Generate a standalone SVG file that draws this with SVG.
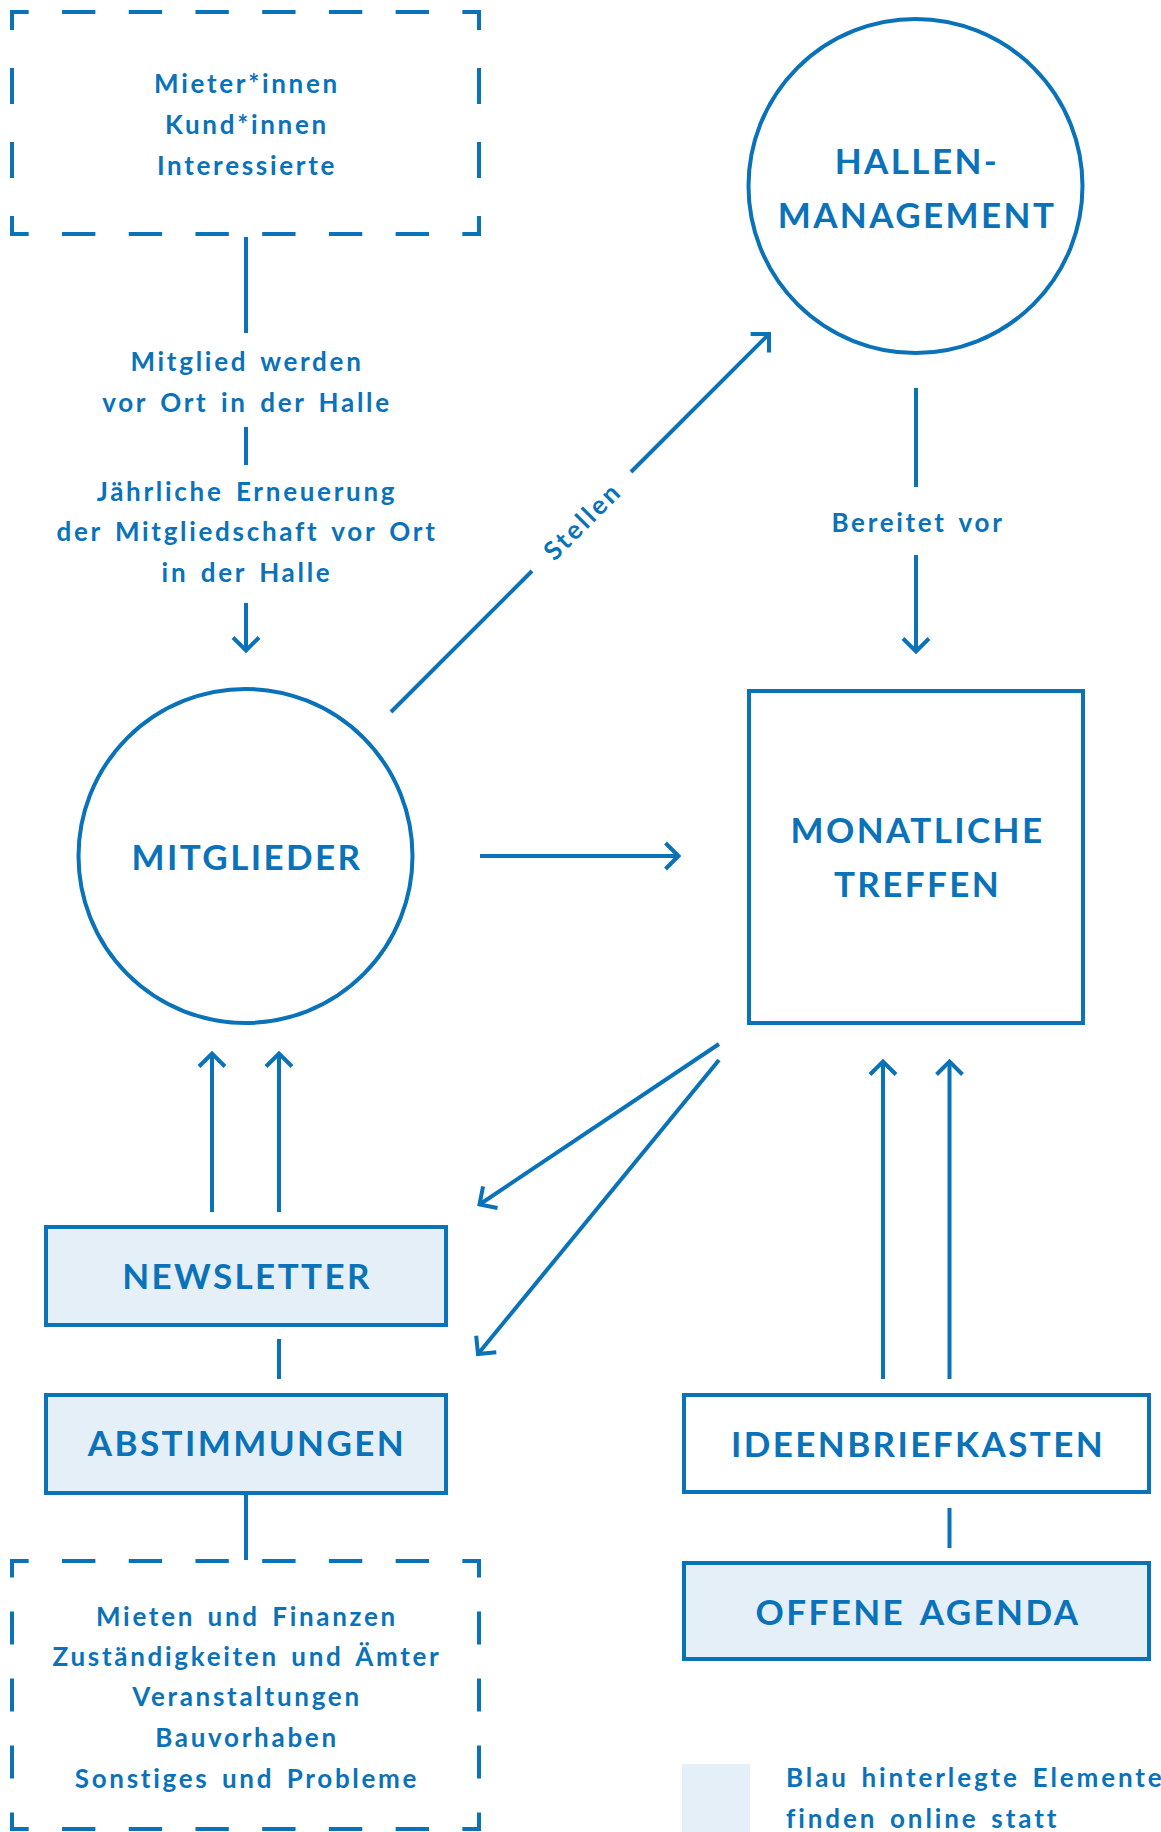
<svg xmlns="http://www.w3.org/2000/svg" width="1161" height="1832" viewBox="0 0 1161 1832">
<defs>
<style>
.ln{fill:none;stroke:#0a72b8;stroke-width:4;}
.node{fill:none;stroke:#0a72b8;stroke-width:4;}
.fill{fill:#e4eff7;}
.t{font-family:Lato,"Liberation Sans",sans-serif;font-weight:700;fill:#0a72b8;text-anchor:middle;}
.title{font-size:35px;letter-spacing:2.4px;word-spacing:5px;}
.lbl{font-size:26px;letter-spacing:2.7px;word-spacing:3.5px;}
.dh{stroke-dasharray:33.36 33.36;stroke-dashoffset:14.69;}
.dv1{stroke-dasharray:36 38;stroke-dashoffset:16;}
.dv2{stroke-dasharray:33 34;stroke-dashoffset:14.5;}
</style>
<marker id="arr" markerUnits="userSpaceOnUse" orient="auto" refX="0" refY="0" markerWidth="40" markerHeight="40" overflow="visible">
<path d="M-13,-13 L0,0 L-13,13" fill="none" stroke="#0a72b8" stroke-width="4" stroke-linejoin="miter"/>
</marker>
</defs>
<rect width="1161" height="1832" fill="#ffffff"/>

<g id="zielgruppen">
<line class="ln dh" x1="10" y1="12" x2="481" y2="12"/>
<line class="ln dh" x1="10" y1="234" x2="481" y2="234"/>
<line class="ln dv1" x1="12" y1="10" x2="12" y2="236"/>
<line class="ln dv1" x1="479" y1="10" x2="479" y2="236"/>
<text class="t lbl" x="247" y="93">Mieter*innen</text>
<text class="t lbl" x="247" y="134">Kund*innen</text>
<text class="t lbl" x="247" y="175">Interessierte</text>
</g>

<g id="hallenmanagement">
<circle class="node" cx="915.5" cy="186" r="167"/>
<text class="t title" x="917" y="174">HALLEN-</text>
<text class="t title" x="917" y="228">MANAGEMENT</text>
</g>

<g id="mitglieder">
<circle class="node" cx="245.5" cy="856" r="167"/>
<text class="t title" x="247" y="870">MITGLIEDER</text>
</g>

<g id="monatliche-treffen">
<rect class="node" x="749" y="691" width="334" height="332"/>
<text class="t title" x="917.5" y="843">MONATLICHE</text>
<text class="t title" x="917.5" y="897">TREFFEN</text>
</g>

<g id="newsletter">
<rect class="node fill" x="46" y="1227" width="400" height="98"/>
<text class="t title" x="247" y="1289">NEWSLETTER</text>
</g>

<g id="abstimmungen">
<rect class="node fill" x="46" y="1395" width="400" height="98"/>
<text class="t title" x="247" y="1456">ABSTIMMUNGEN</text>
</g>

<g id="themen">
<line class="ln dh" x1="10" y1="1561" x2="481" y2="1561"/>
<line class="ln dh" x1="10" y1="1829" x2="481" y2="1829"/>
<line class="ln dv2" x1="12" y1="1559" x2="12" y2="1831"/>
<line class="ln dv2" x1="479" y1="1559" x2="479" y2="1831"/>
<text class="t lbl" x="247" y="1626">Mieten und Finanzen</text>
<text class="t lbl" x="247" y="1666">Zuständigkeiten und Ämter</text>
<text class="t lbl" x="247" y="1706">Veranstaltungen</text>
<text class="t lbl" x="247" y="1747">Bauvorhaben</text>
<text class="t lbl" x="247" y="1788">Sonstiges und Probleme</text>
</g>

<g id="ideenbriefkasten">
<rect class="node" x="684" y="1395" width="465" height="97"/>
<text class="t title" x="918" y="1457">IDEENBRIEFKASTEN</text>
</g>

<g id="offene-agenda">
<rect class="node fill" x="684" y="1563" width="465" height="96"/>
<text class="t title" x="918" y="1625">OFFENE AGENDA</text>
</g>

<g id="legende">
<rect class="fill" x="682" y="1764" width="68" height="68"/>
<text class="t lbl" x="786" y="1787" style="text-anchor:start;letter-spacing:2.9px">Blau hinterlegte Elemente</text>
<text class="t lbl" x="786" y="1828" style="text-anchor:start;letter-spacing:2.9px">finden online statt</text>
</g>

<g id="connectors">
<line class="ln" x1="246" y1="237" x2="246" y2="333"/>
<text class="t lbl" x="247" y="371">Mitglied werden</text>
<text class="t lbl" x="247" y="412">vor Ort in der Halle</text>
<line class="ln" x1="246" y1="427" x2="246" y2="465"/>
<text class="t lbl" x="247" y="501">Jährliche Erneuerung</text>
<text class="t lbl" x="247" y="541">der Mitgliedschaft vor Ort</text>
<text class="t lbl" x="247" y="582">in der Halle</text>
<line class="ln" x1="246" y1="603" x2="246" y2="650.5" marker-end="url(#arr)"/>

<line class="ln" x1="391" y1="712" x2="532" y2="571"/>
<line class="ln" x1="631" y1="472" x2="769" y2="334" marker-end="url(#arr)"/>
<text class="t lbl" transform="translate(581.5,521.5) rotate(-45)" x="1" y="9.5">Stellen</text>

<line class="ln" x1="480" y1="856" x2="678.5" y2="856" marker-end="url(#arr)"/>

<line class="ln" x1="916" y1="388" x2="916" y2="487"/>
<text class="t lbl" x="918" y="532">Bereitet vor</text>
<line class="ln" x1="916" y1="555" x2="916" y2="651.5" marker-end="url(#arr)"/>

<line class="ln" x1="719" y1="1044" x2="479.5" y2="1204.5" marker-end="url(#arr)"/>
<line class="ln" x1="719" y1="1060" x2="478" y2="1354" marker-end="url(#arr)"/>

<line class="ln" x1="212" y1="1212" x2="212" y2="1053.5" marker-end="url(#arr)"/>
<line class="ln" x1="279" y1="1212" x2="279" y2="1053.5" marker-end="url(#arr)"/>
<line class="ln" x1="279" y1="1339" x2="279" y2="1379"/>
<line class="ln" x1="246" y1="1493" x2="246" y2="1560"/>

<line class="ln" x1="883" y1="1379" x2="883" y2="1061.5" marker-end="url(#arr)"/>
<line class="ln" x1="949.5" y1="1379" x2="949.5" y2="1061.5" marker-end="url(#arr)"/>
<line class="ln" x1="949.5" y1="1508" x2="949.5" y2="1548"/>
</g>
</svg>
